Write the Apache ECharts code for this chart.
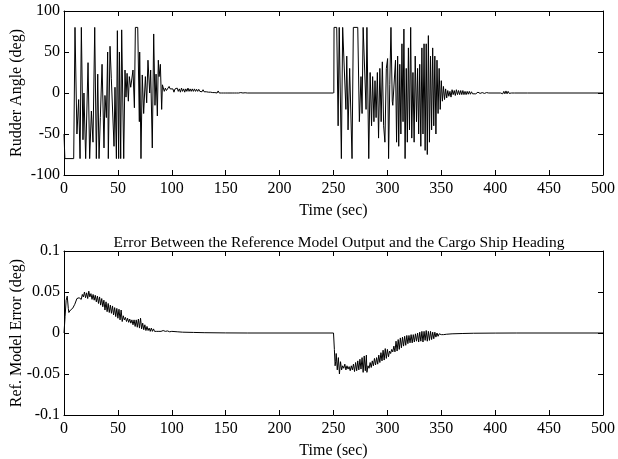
<!DOCTYPE html>
<html><head><meta charset="utf-8">
<script src="https://cdn.jsdelivr.net/npm/echarts@6/dist/echarts.min.js"></script>
<style>html,body{margin:0;padding:0;background:#fff}#c{width:618px;height:459px}</style>
</head><body><div id="c"></div>
<script>
// Tick labels
const xTicks = [0,50,100,150,200,250,300,350,400,450,500];
const rudderTicks = [-100,-50,0,50,100];
const errTicks = [-0.1,-0.05,0,0.05,0.1];

// Rudder angle (deg) vs time (sec), first maneuver
const rudderA = [[0,-50],[0.8,-80],[9,-80],[10.2,80],[12,-50],[13.6,-8],[14.9,-80],[16.1,80],[17.6,-57],[18.5,0],[20.1,-80],[22.3,37],[23.8,-80],[25.4,-22],[26.9,-60],[28.5,80],[30,-80],[31.3,23],[32.5,-80],[33.7,-30],[35.3,35],[37.1,-67],[38,-3],[39.3,-30],[40.5,50],[41.1,-80],[42.7,57],[43.9,18],[46.4,-65],[47.3,7],[48.6,-80],[49.5,76],[50.7,-80],[51.4,50],[52.6,-80],[53.5,77],[55.4,-80],[56.6,28],[57.5,-5],[58.5,24],[59.7,-10],[60.6,20],[61.9,7],[64,28],[65.3,-18],[66.2,80],[68.4,80],[69.9,-35],[70.2,50],[71.4,-80],[72.6,22],[73.9,-25],[75.5,20],[76.7,-12],[77.9,40],[79.5,0],[80.4,28],[81.9,-67],[83.2,72],[84.4,-15],[85.4,23],[86.6,-28],[87.5,40],[88.2,20],[89.4,35],[90.6,-20],[91.3,10],[92,9],[93,2],[94,6],[95,3],[96.5,5],[97.5,8],[98.5,5],[99.5,3],[101,5],[102,1],[103,5],[104,3],[105,6],[106,2],[107,5],[108,1],[109,6],[110,2],[111,5],[112,1],[113,5],[114,2],[115,6],[116,2],[117,5],[118,2],[119,5],[120,2],[121,5],[122,2],[123,4.5],[124,2],[125,4.5],[126,2],[127,4],[128,1.5],[129,4],[130,1.5],[131,3.5],[132,1.5],[133,3],[134,1],[135,3],[136,1],[137,3],[138,0.5],[139,2.5],[140,0.5],[141,2.5],[142,0],[143,2.5],[144,0],[145,2],[146,0],[147,2],[148,0],[149,2],[150,0],[151,1.5],[152,0],[153,1.5],[154,0],[155,1.2],[156,0],[157,1],[158,0],[159,1],[160,0],[161,0.8],[162,0],[164,0.5],[166,0],[168,0.3],[170,0],[250,0]];

// Rudder angle (deg), second maneuver
const rudderB = [[250.3,0],[250.5,80],[253,80],[254.3,-40],[255.3,80],[257.3,-80],[258.5,80],[260,80],[261.5,-20],[262.3,45],[263.5,-45],[265,30],[267.2,-80],[268.4,80],[272.5,80],[274,-35],[275.5,20],[276.5,-25],[277.5,80],[279,80],[280.2,-20],[281,80],[282.7,-80],[284,25],[285.3,-40],[286.3,20],[287.5,-35],[288.5,15],[289.5,-30],[290.7,25],[291.8,-55],[293,30],[294.2,-35],[295.3,38],[296.5,-40],[297.7,-60],[299,30],[300.2,42],[301.1,-80],[302.2,10],[303.3,80],[304.5,-10],[305,-15],[306.5,-15],[307.5,40],[308.5,-60],[309.5,45],[310.5,-65],[311.5,35],[312.5,-50],[313.5,60],[314.5,-35],[315.3,78],[316.4,-80],[317.5,30],[318.5,-60],[319.5,55],[320.5,-45],[321.6,80],[322.6,-55],[323.7,25],[324.8,-60],[325.8,45],[327,-35],[328,30],[329,-50],[330,35],[331,-65],[332,55],[333,-50],[334,60],[335,-70],[336,60],[337,-75],[338,70],[339,-60],[340,45],[341,-45],[342,55],[343,-40],[344,45],[345,-50],[346,40],[347,-25],[348,30],[349,-20],[350,15],[351,-10],[352,8],[353,-8],[354,5],[355,-6],[356,3],[357,-4],[358,2],[359,-5],[360,4],[361,-2],[362,3],[363,-3],[364,4],[365,-2],[366,3],[367,-2],[368,3],[369,-2],[370,3],[371,-2],[372,2],[373,-2],[374,2],[375,-1.5],[376,2],[377,-1.5],[378,1.5],[379,-1],[380,1],[382,-1],[384,1],[386,-0.5],[388,0.5],[390,-0.5],[392,0.5],[394,0],[405,0],[406,1],[407,-1],[408,2],[409,-1],[410,2.5],[411,-1],[412,2],[413,-0.5],[414,1.5],[415,0],[416,1],[418,0],[430,0],[500,0]];

// Reference model error (deg), first maneuver
const errA = [[0,0],[1,0.02],[2,0.04],[3,0.045],[4,0.03],[4.5,0.025],[6,0.028],[8,0.03],[10,0.035],[12,0.042],[13,0.044],[14,0.043],[15,0.045],[16,0.041],[17,0.047],[18,0.044],[19,0.05],[20,0.043],[21,0.049],[22,0.042],[23,0.051],[24,0.044],[25,0.048],[26,0.041],[27,0.047],[28,0.04],[29,0.046],[30,0.038],[31,0.045],[32,0.036],[33,0.044],[34,0.034],[35,0.042],[36,0.032],[37,0.04],[38,0.028],[39,0.038],[40,0.026],[41,0.036],[42,0.025],[43,0.034],[44,0.024],[45,0.033],[46,0.022],[47,0.031],[48,0.02],[49,0.03],[50,0.018],[51,0.029],[52,0.016],[53,0.028],[54,0.014],[55,0.021],[56,0.016],[57,0.019],[58,0.014],[59,0.018],[60,0.013],[61,0.017],[62,0.012],[63,0.016],[64,0.01],[65,0.016],[66,0.008],[67,0.016],[68,0.007],[69,0.017],[70,0.006],[71,0.018],[72,0.005],[73,0.012],[74,0.004],[75,0.01],[76,0.003],[77,0.008],[78,0.003],[79,0.006],[80,0.002],[81,0.006],[82,0.002],[83,0.005],[84,0.002],[85,0.004],[86,0.002],[87,0.004],[88,0.002],[89,0.003],[90,0.002],[92,0.003],[94,0.002],[96,0.0025],[98,0.0015],[100,0.002],[105,0.0015],[110,0.001],[120,0.0007],[130,0.0004],[150,0.0001],[170,0],[250,0]];

// Reference model error (deg), second maneuver
const errB = [[250,0],[250.8,-0.02],[251.5,-0.04],[252,-0.035],[252.5,-0.025],[253.5,-0.045],[254.5,-0.03],[255.5,-0.05],[256.5,-0.035],[257.5,-0.045],[258.5,-0.04],[259.5,-0.043],[260.5,-0.038],[261.5,-0.045],[262.5,-0.04],[263.5,-0.044],[264.5,-0.041],[265.5,-0.046],[266.5,-0.04],[267.5,-0.045],[268.5,-0.038],[269.5,-0.047],[270.5,-0.036],[271.5,-0.046],[272.5,-0.034],[273.5,-0.045],[274.5,-0.032],[275.5,-0.044],[276.5,-0.03],[277.5,-0.048],[278.5,-0.028],[279.5,-0.046],[280.5,-0.027],[281,-0.048],[282,-0.04],[283,-0.043],[284,-0.036],[285,-0.042],[286,-0.034],[287,-0.04],[288,-0.031],[289,-0.039],[290,-0.03],[291,-0.038],[292,-0.027],[293,-0.036],[294,-0.024],[295,-0.034],[296,-0.021],[297,-0.033],[298,-0.019],[299,-0.031],[300,-0.02],[301,-0.029],[302,-0.022],[303,-0.025],[304,-0.02],[305,-0.023],[306,-0.016],[307,-0.023],[308,-0.01],[309,-0.022],[310,-0.008],[311,-0.02],[312,-0.006],[313,-0.018],[314,-0.005],[315,-0.016],[316,-0.004],[317,-0.015],[318,-0.003],[319,-0.013],[320,-0.003],[321,-0.012],[322,-0.002],[323,-0.012],[324,-0.002],[325,-0.011],[326,-0.001],[327,-0.01],[328,0],[329,-0.011],[330,0.001],[331,-0.01],[332,0.002],[333,-0.011],[334,0.002],[335,-0.009],[336,0.003],[337,-0.01],[338,0.002],[339,-0.009],[340,0.002],[341,-0.008],[342,0.001],[343,-0.007],[344,0.001],[345,-0.005],[346,0],[347,-0.004],[348,-0.001],[349,-0.003],[350,-0.002],[352,-0.002],[355,-0.0015],[360,-0.001],[370,-0.0006],[380,-0.0003],[400,-0.0001],[420,0],[500,0]];

const FONT = 'Liberation Serif';
const chart = echarts.init(document.getElementById('c'), null, {renderer:'canvas'});
const lineAx = {show:true, onZero:false, lineStyle:{color:'#000', width:1}};
const tickIn = {show:true, inside:true, length:5, lineStyle:{color:'#000'}};
const lbl = {color:'#000', fontFamily:FONT, fontSize:16};
function xAx(gi, bottom){
  return {type:'value', gridIndex:gi, position: bottom?'bottom':'top', min:0, max:500, interval:50,
    axisLine:lineAx, axisTick:tickIn, splitLine:{show:false},
    axisLabel: bottom ? Object.assign({margin:6, formatter:v=>xTicks.includes(v)?String(v):''}, lbl) : {show:false},
    name: bottom?'Time (sec)':'', nameLocation:'middle', nameGap:28, nameMoveOverlap:false,
    nameTextStyle:{color:'#000', fontFamily:FONT, fontSize:16}};
}
function yAx(gi, left, min, max, itv, name, ticks){
  return {type:'value', gridIndex:gi, position:left?'left':'right', min:min, max:max, interval:itv,
    axisLine:lineAx, axisTick:tickIn, splitLine:{show:false},
    axisLabel: left ? Object.assign({margin:4, formatter:v=>{const t=ticks.find(k=>Math.abs(k-v)<1e-9);return t===undefined?'':String(t);}}, lbl) : {show:false},
    name: left?name:'', nameLocation:'middle', nameGap: 39, nameMoveOverlap:false,
    nameTextStyle:{color:'#000', fontFamily:FONT, fontSize:16}};
}
const ls = {color:'#000', width:1};
chart.setOption({
  animation:false,
  backgroundColor:'#fff',
  title:{text:'Error Between the Reference Model Output and the Cargo Ship Heading', left:334, textAlign:'center', top:230,
    textStyle:{color:'#000', fontFamily:FONT, fontSize:15.5, fontWeight:'normal'}},
  grid:[{left:64, right:15, top:11, height:164, outerBoundsMode:'none', containLabel:false},
        {left:64, right:15, top:251, height:164, outerBoundsMode:'none', containLabel:false}],
  xAxis:[xAx(0,true), xAx(0,false), xAx(1,true), xAx(1,false)],
  yAxis:[yAx(0,true,-100,100,50,'Rudder Angle (deg)',rudderTicks), yAx(0,false,-100,100,50,'',rudderTicks),
         yAx(1,true,-0.1,0.1,0.05,'Ref. Model Error (deg)',errTicks), yAx(1,false,-0.1,0.1,0.05,'',errTicks)],
  series:[
    {type:'line', xAxisIndex:0, yAxisIndex:0, data:rudderA, showSymbol:false, lineStyle:ls},
    {type:'line', xAxisIndex:0, yAxisIndex:0, data:rudderB, showSymbol:false, lineStyle:ls},
    {type:'line', xAxisIndex:2, yAxisIndex:2, data:errA, showSymbol:false, lineStyle:ls},
    {type:'line', xAxisIndex:2, yAxisIndex:2, data:errB, showSymbol:false, lineStyle:ls}
  ]
});
</script></body></html>
